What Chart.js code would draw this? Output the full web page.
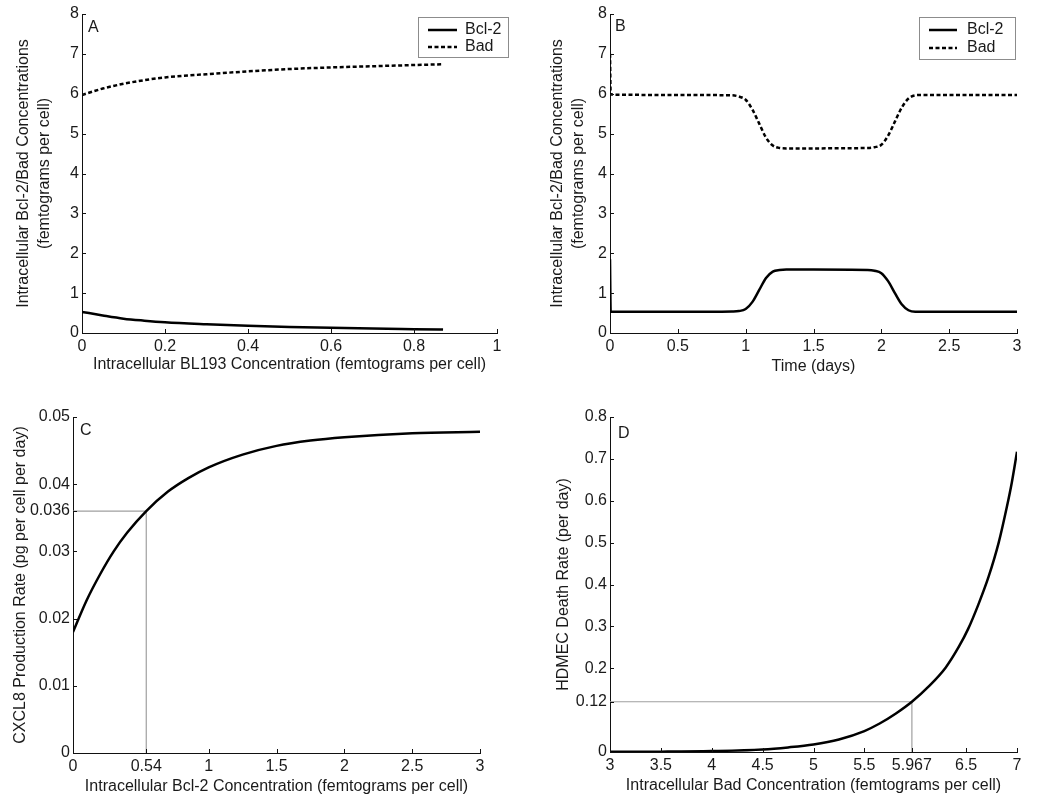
<!DOCTYPE html>
<html><head><meta charset="utf-8">
<script src="https://cdn.jsdelivr.net/npm/chart.js@4.4.1/dist/chart.umd.min.js"></script>
<style>
html,body{margin:0;padding:0;background:#fff;}
#wrap{position:relative;width:1050px;height:811px;overflow:hidden;}
canvas{position:absolute;display:block;}
</style></head><body>
<div id="wrap">
<canvas id="cA" width="525" height="400" style="left:0;top:0"></canvas>
<canvas id="cB" width="525" height="400" style="left:525px;top:0"></canvas>
<canvas id="cC" width="525" height="411" style="left:0;top:400px"></canvas>
<canvas id="cD" width="525" height="411" style="left:525px;top:400px"></canvas>
</div>
<script>
// ---------- Panel A data ----------
const aX     = [0, 0.05, 0.1, 0.15, 0.2, 0.3, 0.4, 0.5, 0.6, 0.7, 0.8, 0.87];
const aBcl2  = [0.53, 0.44, 0.36, 0.31, 0.27, 0.22, 0.18, 0.15, 0.13, 0.11, 0.095, 0.085];
const aBad   = [5.97, 6.13, 6.25, 6.34, 6.41, 6.49, 6.56, 6.62, 6.66, 6.69, 6.72, 6.74];
const aXTicks = [0, 0.2, 0.4, 0.6, 0.8, 1];
const aYTicks = [0, 1, 2, 3, 4, 5, 6, 7, 8];

// ---------- Panel B data ----------
const bT     = [0, 0.005, 0.5, 0.9, 0.95, 1.0, 1.05, 1.1, 1.15, 1.2, 1.25, 1.3, 1.5, 1.9, 1.95, 2.0, 2.05, 2.1, 2.15, 2.2, 2.25, 2.3, 2.5, 3];
const bBad   = [7.0, 5.98, 5.97, 5.96, 5.93, 5.85, 5.6, 5.25, 4.9, 4.7, 4.64, 4.63, 4.63, 4.64, 4.66, 4.72, 4.95, 5.3, 5.65, 5.88, 5.96, 5.97, 5.97, 5.97];
const bBcl2  = [1.85, 0.53, 0.53, 0.54, 0.55, 0.6, 0.78, 1.08, 1.38, 1.54, 1.58, 1.59, 1.59, 1.58, 1.56, 1.5, 1.3, 1.0, 0.72, 0.57, 0.53, 0.53, 0.53, 0.53];
const bXTicks = [0, 0.5, 1, 1.5, 2, 2.5, 3];
const bYTicks = [0, 1, 2, 3, 4, 5, 6, 7, 8];

// ---------- Panel C data ----------
const cX     = [0, 0.1, 0.2, 0.3, 0.4, 0.54, 0.7, 0.85, 1, 1.25, 1.5, 1.75, 2, 2.5, 3];
const cY     = [0.018, 0.0227, 0.0266, 0.030, 0.0328, 0.036, 0.0389, 0.0409, 0.0425, 0.0444, 0.0457, 0.0465, 0.0470, 0.0476, 0.0478];
const cRefX  = [0, 0.54, 0.54];
const cRefY  = [0.036, 0.036, 0];
const cXTicks = [0, 0.54, 1, 1.5, 2, 2.5, 3];
const cYTicks = [0, 0.01, 0.02, 0.03, 0.036, 0.04, 0.05];

// ---------- Panel D data ----------
const dX     = [3, 3.5, 4, 4.5, 4.75, 5, 5.25, 5.5, 5.65, 5.81, 5.967, 6.13, 6.3, 6.43, 6.52, 6.62, 6.72, 6.82, 6.9, 6.95, 7];
const dY     = [0.0003, 0.0008, 0.0022, 0.006, 0.011, 0.018, 0.030, 0.050, 0.068, 0.092, 0.12, 0.156, 0.202, 0.252, 0.294, 0.352, 0.418, 0.5, 0.585, 0.645, 0.717];
const dRefX  = [3, 5.967, 5.967];
const dRefY  = [0.12, 0.12, 0];
const dXTicks = [3, 3.5, 4, 4.5, 5, 5.5, 5.967, 6.5, 7];
const dYTicks = [0, 0.12, 0.2, 0.3, 0.4, 0.5, 0.6, 0.7, 0.8];

const FONT = 'Liberation Sans, Arial, Helvetica, sans-serif';
const TXT = '#1a1a1a';
const pts = (xs, ys) => xs.map((x, i) => ({x: x, y: ys[i]}));

const inTicks = {
  id: 'inTicks',
  afterDraw(chart) {
    const ctx = chart.ctx, ca = chart.chartArea, xs = chart.scales.x, ys = chart.scales.y;
    ctx.save();
    ctx.strokeStyle = '#111'; ctx.lineWidth = 1;
    ctx.beginPath();
    xs.ticks.forEach(t => { const px = Math.round(xs.getPixelForValue(t.value)) + 0.5; ctx.moveTo(px, ca.bottom); ctx.lineTo(px, ca.bottom - 4); });
    ys.ticks.forEach(t => { const py = Math.round(ys.getPixelForValue(t.value)) + 0.5; ctx.moveTo(ca.left, py); ctx.lineTo(ca.left + 4, py); });
    ctx.stroke();
    ctx.restore();
  }
};

const deco = {
  id: 'deco',
  afterDraw(chart, args, opts) {
    const ctx = chart.ctx, ca = chart.chartArea;
    ctx.save();
    ctx.fillStyle = TXT;
    ctx.font = '16px ' + FONT;
    ctx.textBaseline = 'middle';
    ctx.textAlign = 'left';
    if (opts.letter) ctx.fillText(opts.letter, ca.left + opts.ldx, ca.top + opts.ldy);
    const lg = opts.legend;
    if (lg) {
      ctx.fillStyle = '#fff';
      ctx.fillRect(lg.x, lg.y, lg.w, lg.h);
      ctx.strokeStyle = '#8c8c8c'; ctx.lineWidth = 1;
      ctx.strokeRect(lg.x + 0.5, lg.y + 0.5, lg.w, lg.h);
      const items = chart.data.datasets.filter(d => d.label && !d.isRef);
      items.forEach((d, i) => {
        const yy = lg.y + lg.row0 + i * lg.rowH;
        ctx.strokeStyle = d.borderColor; ctx.lineWidth = d.borderWidth;
        ctx.setLineDash(d.borderDash || []);
        ctx.beginPath(); ctx.moveTo(lg.x + lg.l0, yy); ctx.lineTo(lg.x + lg.l1, yy); ctx.stroke();
        ctx.setLineDash([]);
        ctx.fillStyle = TXT;
        ctx.fillText(d.label, lg.x + lg.tx, yy);
      });
    }
    ctx.restore();
  }
};

function makeChart(id, c) {
  const canvas = document.getElementById(id);
  const W = canvas.width, H = canvas.height;
  new Chart(canvas, {
    type: 'line',
    data: { datasets: c.datasets },
    plugins: [inTicks, deco],
    options: {
      responsive: false, animation: false,
      layout: { padding: { top: c.area.top, right: W - c.area.right, left: 0, bottom: 0 } },
      elements: { point: { radius: 0 }, line: { borderCapStyle: 'butt' } },
      plugins: { legend: { display: false }, tooltip: { enabled: false }, deco: c.deco },
      scales: {
        x: {
          type: 'linear', min: c.xMin, max: c.xMax,
          grid: { display: false, drawTicks: false },
          border: { display: true, color: '#111', width: 1 },
          afterBuildTicks: s => { s.ticks = c.xTicks.map(v => ({value: v})); },
          afterFit: s => { s.height = H - c.area.bottom; s.paddingLeft = 0; s.paddingRight = 0; },
          ticks: { color: TXT, font: { family: FONT, size: 16 }, padding: 4, maxRotation: 0, autoSkip: false, callback: v => String(v) },
          title: { display: true, text: c.xTitle, color: TXT, font: { family: FONT, size: 16, lineHeight: 1.2 }, padding: { top: 0, bottom: c.xTitlePad } }
        },
        y: {
          type: 'linear', min: c.yMin, max: c.yMax,
          grid: { display: false, drawTicks: false },
          border: { display: true, color: '#111', width: 1 },
          afterBuildTicks: s => { s.ticks = c.yTicks.map(v => ({value: v})); },
          afterFit: s => { s.width = c.area.left; s.paddingTop = 0; s.paddingBottom = 0; },
          ticks: { color: TXT, font: { family: FONT, size: 16 }, padding: 3, autoSkip: false, callback: v => String(v) },
          title: { display: true, text: c.yTitle, color: TXT, font: { family: FONT, size: 16, lineHeight: 1.3 }, padding: { top: c.yTitlePad, bottom: 0 } }
        }
      }
    }
  });
}

const solid = (label, data) => ({ label, data, borderColor: '#000', borderWidth: 2.5, cubicInterpolationMode: 'monotone', fill: false });
const dashed = (label, data) => ({ label, data, borderColor: '#000', borderWidth: 2.5, borderDash: [4, 2.5], cubicInterpolationMode: 'monotone', fill: false });
const ref = (data) => ({ label: '', isRef: true, data, borderColor: '#a0a0a0', borderWidth: 1.2, tension: 0, fill: false });

makeChart('cA', {
  datasets: [solid('Bcl-2', pts(aX, aBcl2)), dashed('Bad', pts(aX, aBad))],
  xMin: 0, xMax: 1, yMin: 0, yMax: 8, xTicks: aXTicks, yTicks: aYTicks,
  area: { left: 82, top: 14, right: 497, bottom: 333 },
  xTitle: 'Intracellular BL193 Concentration (femtograms per cell)', xTitlePad: 26,
  yTitle: ['Intracellular Bcl-2/Bad Concentrations', '(femtograms per cell)'], yTitlePad: 13,
  deco: { letter: 'A', ldx: 6, ldy: 14, legend: { x: 418, y: 17, w: 90, h: 40, row0: 13, rowH: 17, l0: 10, l1: 39, tx: 47 } }
});

makeChart('cB', {
  datasets: [solid('Bcl-2', pts(bT, bBcl2)), dashed('Bad', pts(bT, bBad))],
  xMin: 0, xMax: 3, yMin: 0, yMax: 8, xTicks: bXTicks, yTicks: bYTicks,
  area: { left: 85, top: 14, right: 492, bottom: 333 },
  xTitle: 'Time (days)', xTitlePad: 24,
  yTitle: ['Intracellular Bcl-2/Bad Concentrations', '(femtograms per cell)'], yTitlePad: 22,
  deco: { letter: 'B', ldx: 5, ldy: 13, legend: { x: 394, y: 17, w: 96, h: 42, row0: 13, rowH: 18, l0: 10, l1: 38, tx: 48 } }
});

makeChart('cC', {
  datasets: [solid('CXCL8', pts(cX, cY)), ref(pts(cRefX, cRefY))],
  xMin: 0, xMax: 3, yMin: 0, yMax: 0.05, xTicks: cXTicks, yTicks: cYTicks,
  area: { left: 73, top: 17, right: 480, bottom: 353 },
  xTitle: 'Intracellular Bcl-2 Concentration (femtograms per cell)', xTitlePad: 15,
  yTitle: 'CXCL8 Production Rate (pg per cell per day)', yTitlePad: 10,
  deco: { letter: 'C', ldx: 7, ldy: 14 }
});

makeChart('cD', {
  datasets: [solid('Death', pts(dX, dY)), ref(pts(dRefX, dRefY))],
  xMin: 3, xMax: 7, yMin: 0, yMax: 0.8, xTicks: dXTicks, yTicks: dYTicks,
  area: { left: 85, top: 17, right: 492, bottom: 352 },
  xTitle: 'Intracellular Bad Concentration (femtograms per cell)', xTitlePad: 16,
  yTitle: 'HDMEC Death Rate (per day)', yTitlePad: 28,
  deco: { letter: 'D', ldx: 8, ldy: 17 }
});
</script>
</body></html>
